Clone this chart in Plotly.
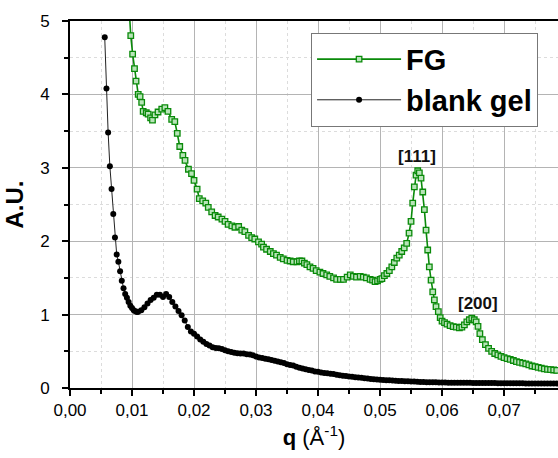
import plotly.graph_objects as go

# blank gel (q in 1/Angstrom, intensity in A.U.)
blank_q = [0.0056, 0.00588, 0.00615, 0.00643, 0.0067, 0.00698, 0.00725, 0.00753, 0.0078, 0.00808,
           0.00835, 0.00863, 0.0089, 0.00918, 0.00945, 0.00973, 0.0100, 0.01028, 0.01055, 0.0108,
           0.0110, 0.0115, 0.0120, 0.0125, 0.0130, 0.0135, 0.0140, 0.0145, 0.0150, 0.0155,
           0.0160, 0.0165, 0.0170, 0.0175, 0.0180, 0.0185, 0.0190, 0.0195, 0.0200, 0.0205,
           0.0210, 0.0215, 0.0220, 0.0225, 0.0230, 0.0235, 0.0240, 0.0245, 0.0250, 0.0255,
           0.0260, 0.0265, 0.0270, 0.0275, 0.0280, 0.0285, 0.0290, 0.0295, 0.0300, 0.0305,
           0.0310, 0.0315, 0.0320, 0.0325, 0.0330, 0.0335, 0.0340, 0.0345, 0.0350, 0.0355,
           0.0360, 0.0365, 0.0370, 0.0375, 0.0380, 0.0385, 0.0390, 0.0395, 0.0400, 0.0405,
           0.0410, 0.0415, 0.0420, 0.0425, 0.0430, 0.0435, 0.0440, 0.0445, 0.0450, 0.0455,
           0.0460, 0.0465, 0.0470, 0.0475, 0.0480, 0.0485, 0.0490, 0.0495, 0.0500, 0.0505,
           0.0510, 0.0515, 0.0520, 0.0525, 0.0530, 0.0535, 0.0540, 0.0545, 0.0550, 0.0555,
           0.0560, 0.0565, 0.0570, 0.0575, 0.0580, 0.0585, 0.0590, 0.0595, 0.0600, 0.0605,
           0.0610, 0.0615, 0.0620, 0.0625, 0.0630, 0.0635, 0.0640, 0.0645, 0.0650, 0.0655,
           0.0660, 0.0665, 0.0670, 0.0675, 0.0680, 0.0685, 0.0690, 0.0695, 0.0700, 0.0705,
           0.0710, 0.0715, 0.0720, 0.0725, 0.0730, 0.0735, 0.0740, 0.0745, 0.0750, 0.0755,
           0.0760, 0.0765, 0.0770, 0.0775, 0.0780, 0.0785]
blank_i = [4.78, 4.08, 3.48, 3.02, 2.71, 2.37, 2.05, 1.82, 1.72, 1.59,
           1.46, 1.36, 1.28, 1.23, 1.17, 1.12, 1.09, 1.06, 1.045, 1.035,
           1.04, 1.06, 1.10, 1.15, 1.20, 1.23, 1.27, 1.27, 1.24, 1.28,
           1.24, 1.17, 1.11, 1.05, 0.99, 0.92, 0.83, 0.77, 0.74, 0.70,
           0.66, 0.63, 0.60, 0.58, 0.555, 0.545, 0.54, 0.53, 0.515, 0.50,
           0.49, 0.48, 0.475, 0.47, 0.47, 0.46, 0.455, 0.445, 0.43, 0.415,
           0.41, 0.40, 0.39, 0.38, 0.37, 0.36, 0.35, 0.34, 0.325, 0.315,
           0.305, 0.29, 0.275, 0.265, 0.255, 0.245, 0.24, 0.225, 0.22, 0.21,
           0.205, 0.20, 0.195, 0.19, 0.18, 0.175, 0.168, 0.162, 0.157, 0.152,
           0.147, 0.142, 0.138, 0.133, 0.128, 0.124, 0.12, 0.117, 0.113, 0.11,
           0.107, 0.105, 0.102, 0.10, 0.097, 0.095, 0.093, 0.091, 0.089, 0.087,
           0.085, 0.083, 0.082, 0.08, 0.079, 0.078, 0.077, 0.076, 0.075, 0.074,
           0.073, 0.072, 0.072, 0.071, 0.071, 0.07, 0.07, 0.07, 0.069, 0.069,
           0.068, 0.068, 0.068, 0.067, 0.067, 0.067, 0.066, 0.066, 0.066, 0.065,
           0.065, 0.065, 0.064, 0.064, 0.064, 0.063, 0.063, 0.063, 0.062, 0.062,
           0.062, 0.061, 0.061, 0.061, 0.06, 0.06]

# FG
fg_q = [0.0093, 0.0096, 0.0098, 0.0101, 0.0104, 0.01065, 0.0110, 0.0113, 0.01156, 0.0118,
        0.0123, 0.0126, 0.0130, 0.0133, 0.0137, 0.0142, 0.0148, 0.0153, 0.0158, 0.0164,
        0.0169, 0.0173, 0.0177, 0.0182, 0.01855, 0.0191, 0.0196, 0.0200, 0.0205, 0.02085,
        0.0214, 0.0219, 0.0223, 0.02285, 0.0234, 0.0239, 0.0245, 0.0250, 0.0255, 0.0261,
        0.0266, 0.0272, 0.0277, 0.0282, 0.0288, 0.0293, 0.0298, 0.0304, 0.0309, 0.0312,
        0.0317, 0.0323, 0.0328, 0.0333, 0.0339, 0.0344, 0.0350, 0.0355, 0.0360, 0.0366,
        0.0370, 0.0374, 0.0378, 0.0382, 0.0387, 0.0392, 0.0397, 0.0403, 0.0408, 0.0414,
        0.0419, 0.0425, 0.0430, 0.0436, 0.0441, 0.0447, 0.0452, 0.0457, 0.0462, 0.0468,
        0.0473, 0.0478, 0.0484, 0.0488, 0.0492, 0.0496, 0.0500, 0.0503, 0.0507, 0.0511,
        0.0515, 0.0519, 0.0523, 0.0527, 0.0531, 0.0535, 0.0539, 0.0543, 0.05468, 0.0550,
        0.05527, 0.05553, 0.05581, 0.05608, 0.05634, 0.05661, 0.05689, 0.05715, 0.05742, 0.05769,
        0.05795, 0.05823, 0.0585, 0.05876, 0.05903, 0.0594, 0.0597, 0.0600, 0.0604, 0.0608,
        0.0613, 0.0618, 0.0623, 0.0628, 0.0632, 0.0636, 0.0640, 0.0644, 0.0648, 0.0652,
        0.0655, 0.0658, 0.0661, 0.0665, 0.0670, 0.0675, 0.0680, 0.0685, 0.0690, 0.0695,
        0.0700, 0.0705, 0.0710, 0.0715, 0.0720, 0.0725, 0.0730, 0.0735, 0.0740, 0.0745,
        0.0750, 0.0755, 0.0760, 0.0765, 0.0770, 0.0775, 0.0780, 0.0785]
fg_i = [5.5, 5.05, 4.80, 4.55, 4.35, 4.18, 4.00, 3.97, 3.89, 3.77,
        3.75, 3.73, 3.68, 3.65, 3.72, 3.76, 3.80, 3.82, 3.77, 3.66,
        3.63, 3.47, 3.29, 3.17, 3.10, 2.98, 2.92, 2.83, 2.71, 2.58,
        2.55, 2.52, 2.46, 2.40, 2.35, 2.33, 2.30, 2.27, 2.23, 2.21,
        2.19, 2.20, 2.15, 2.13, 2.08, 2.05, 2.03, 1.99, 1.96, 1.92,
        1.89, 1.86, 1.83, 1.81, 1.78, 1.76, 1.74, 1.73, 1.72, 1.72,
        1.73, 1.73, 1.70, 1.68, 1.65, 1.63, 1.60, 1.58, 1.56, 1.54,
        1.52, 1.50, 1.48, 1.48, 1.48, 1.51, 1.54, 1.52, 1.51, 1.52,
        1.51, 1.50, 1.48, 1.47, 1.45, 1.46, 1.48, 1.49, 1.53, 1.56,
        1.60, 1.65, 1.71, 1.77, 1.81, 1.86, 1.91, 1.97, 2.11, 2.27,
        2.52, 2.74, 2.90, 2.96, 2.93, 2.86, 2.67, 2.43, 2.15, 1.88,
        1.65, 1.47, 1.31, 1.20, 1.11, 1.04, 0.96, 0.91, 0.89, 0.87,
        0.85, 0.835, 0.83, 0.82, 0.83, 0.86, 0.90, 0.93, 0.95, 0.93,
        0.90, 0.84, 0.74, 0.66, 0.59, 0.54, 0.50, 0.47, 0.45, 0.43,
        0.415, 0.40, 0.39, 0.375, 0.36, 0.35, 0.34, 0.33, 0.315, 0.30,
        0.29, 0.28, 0.27, 0.26, 0.255, 0.25, 0.245, 0.24]

peak_labels = ["[111]", "[200]"]
peak_q = [0.0560, 0.0658]
peak_i = [2.96, 0.95]

FONT = "Liberation Sans, Arial, sans-serif"
GREEN = "#0a8a0a"

fig = go.Figure()
fig.add_trace(go.Scatter(
    x=fg_q, y=fg_i, mode="lines+markers", name="<b>FG</b>",
    line=dict(color=GREEN, width=1.6),
    marker=dict(symbol="square", size=5.5, color="#b8e4b8",
                line=dict(color=GREEN, width=1.3)),
    cliponaxis=True,
))
fig.add_trace(go.Scatter(
    x=blank_q, y=blank_i, mode="lines+markers", name="<b>blank gel</b>",
    line=dict(color="#222222", width=1),
    marker=dict(symbol="circle", size=6, color="black"),
    cliponaxis=True,
))

for lab, xq, yi in zip(peak_labels, peak_q, peak_i):
    fig.add_annotation(x=xq, y=yi, text="<b>" + lab + "</b>", showarrow=False,
                       yanchor="bottom", yshift=3,
                       font=dict(family=FONT, size=17, color="#111111"))

fig.update_layout(
    width=558, height=458,
    margin=dict(l=70, r=0, t=21, b=70),
    paper_bgcolor="white", plot_bgcolor="white",
    separators=",.",
    font=dict(family=FONT, color="black"),
    showlegend=True,
    legend=dict(
        x=0.494, y=0.968, xanchor="left", yanchor="top",
        bgcolor="white", bordercolor="#777777", borderwidth=1,
        font=dict(family=FONT, size=29, color="black"),
        itemwidth=84, tracegroupgap=0,
    ),
    xaxis=dict(
        range=[0, 0.0787], dtick=0.01, tick0=0, tickformat=".2f",
        showline=True, linecolor="black", linewidth=2, mirror=True,
        ticks="outside", ticklen=6, tickwidth=1.5, tickcolor="black",
        tickfont=dict(family=FONT, size=17),
        showgrid=True, gridcolor="#b4b4b4", gridwidth=1,
        minor=dict(dtick=0.005, ticks="outside", ticklen=4, tickcolor="black",
                   showgrid=True, gridcolor="#dcdcdc", griddash="dot", gridwidth=1),
        zeroline=False,
        title=dict(text="<b>q</b> (Å<sup>-1</sup>)", font=dict(family=FONT, size=22), standoff=10),
    ),
    yaxis=dict(
        range=[0, 5], dtick=1, tick0=0,
        showline=True, linecolor="black", linewidth=2, mirror=False,
        ticks="outside", ticklen=6, tickwidth=1.5, tickcolor="black",
        tickfont=dict(family=FONT, size=17), ticklabelstandoff=9,
        showgrid=True, gridcolor="#b4b4b4", gridwidth=1,
        minor=dict(dtick=0.5, ticks="outside", ticklen=4, tickcolor="black",
                   showgrid=True, gridcolor="#dcdcdc", griddash="dot", gridwidth=1),
        zeroline=False,
        title=dict(text="<b>A.U.</b>", font=dict(family=FONT, size=24), standoff=10),
    ),
)

fig.write_html("out.html")
